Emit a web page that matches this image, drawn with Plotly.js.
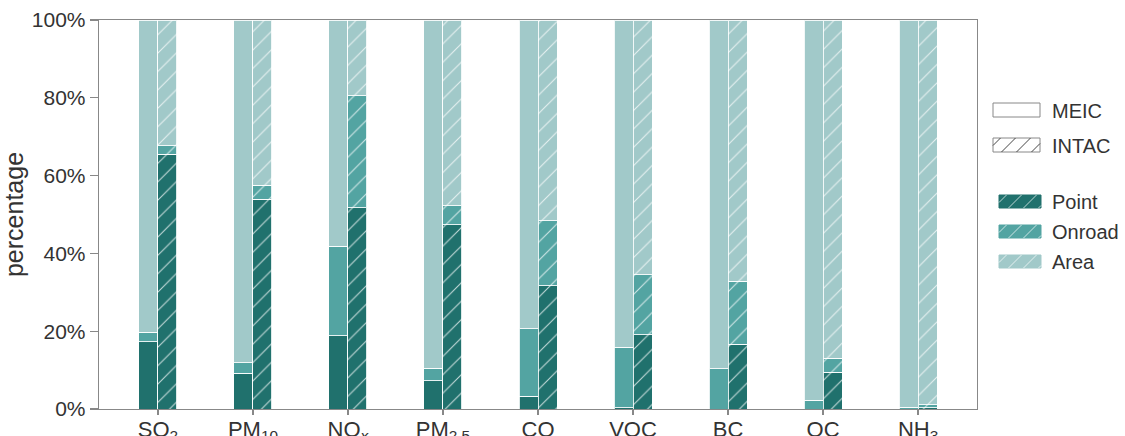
<!DOCTYPE html>
<html>
<head>
<meta charset="utf-8">
<script src="https://cdn.plot.ly/plotly-3.0.1.min.js"></script>
<style>html,body{margin:0;padding:0;background:#fff}#chart{width:1125px;height:436px}</style>
</head>
<body>
<div id="chart"></div>
<script>
const categories = ["SO<sub>2</sub>", "PM<sub>10</sub>", "NO<sub><i>x</i></sub>", "PM<sub>2.5</sub>", "CO", "VOC", "BC", "OC", "NH<sub>3</sub>"];
const meicPoint  = [17.3, 9.2, 18.8, 7.2, 3.3, 0.3, 0.0, 0.0, 0.0];
const meicOnroad = [2.4, 2.7, 23.0, 3.3, 17.3, 15.6, 10.3, 2.3, 0.4];
const meicArea   = [80.3, 88.1, 58.2, 89.5, 79.4, 84.1, 89.7, 97.7, 99.6];
const intacPoint  = [65.5, 53.9, 51.8, 47.4, 31.7, 19.1, 16.6, 9.4, 0.3];
const intacOnroad = [2.2, 3.6, 28.7, 4.9, 16.7, 15.4, 16.3, 3.6, 0.8];
const intacArea   = [32.3, 42.5, 19.5, 47.7, 51.6, 65.5, 67.1, 87.0, 98.9];
const yTicks = [0, 20, 40, 60, 80, 100];
const yTickLabels = ["0%", "20%", "40%", "60%", "80%", "100%"];
const datasetNames = ["MEIC", "INTAC"];
const sourceNames = ["Point", "Onroad", "Area"];

const colors = {Point: "#20716d", Onroad: "#53a4a2", Area: "#a1c9c9"};
const idx = categories.map((c, i) => i);
const xMeic = idx.map(i => i - 0.1);
const xIntac = idx.map(i => i + 0.1);
const font = "Liberation Sans, Arial, sans-serif";

function bar(x, y, name, hatch) {
  const m = {
    color: colors[name],
    line: {color: "rgba(255,255,255,0.85)", width: 1}
  };
  if (hatch) m.pattern = {shape: "/", fgcolor: "rgba(255,255,255,0.75)", bgcolor: colors[name], size: 13, solidity: 0.08};
  return {type: "bar", x: x, y: y, width: 0.2, name: name, showlegend: false, marker: m, hoverinfo: "y"};
}

const traces = [
  bar(xMeic, meicPoint, "Point", false),
  bar(xMeic, meicOnroad, "Onroad", false),
  bar(xMeic, meicArea, "Area", false),
  bar(xIntac, intacPoint, "Point", true),
  bar(xIntac, intacOnroad, "Onroad", true),
  bar(xIntac, intacArea, "Area", true)
];

// ---- manual legend (pixel -> paper conversion) ----
const L = 99, R = 977, T = 20, B = 409;
const px = v => (v - L) / (R - L);
const py = v => (B - v) / (B - T);
const shapes = [];
const annotations = [];

function hatchLines(x0, x1, top, bottom, step, color, width) {
  const h = bottom - top;
  for (let k = x0 - h + step / 2; k < x1; k += step) {
    let sx = k, sy = bottom, ex = k + h, ey = top;
    if (sx < x0) { sy = bottom - (x0 - sx); sx = x0; }
    if (ex > x1) { ey = top + (ex - x1); ex = x1; }
    if (ex - sx < 1) continue;
    shapes.push({type: "line", xref: "paper", yref: "paper", x0: px(sx), y0: py(sy), x1: px(ex), y1: py(ey),
                 line: {color: color, width: width}});
  }
}
function swatch(x0, x1, top, bottom, fill, edge, hatchColor) {
  shapes.push({type: "rect", xref: "paper", yref: "paper", x0: px(x0), x1: px(x1), y0: py(bottom), y1: py(top),
               fillcolor: fill, line: {color: edge, width: 1}});
  if (hatchColor) hatchLines(x0, x1, top, bottom, 15, hatchColor, 1);
}
function label(text, x, yc) {
  annotations.push({xref: "paper", yref: "paper", x: px(x), y: py(yc), xanchor: "left", yanchor: "middle",
                    text: text, showarrow: false, font: {size: 20, color: "#333", family: font}});
}
// dataset legend
swatch(993, 1040, 103, 117, "#ffffff", "#888", null);
label(datasetNames[0], 1050, 110.5);
swatch(993, 1040, 138, 152, "#ffffff", "#888", "#444");
label(datasetNames[1], 1050, 145.5);
// source legend
const srcY = [201.5, 231.5, 261.5];
sourceNames.forEach((n, i) => {
  swatch(999, 1041, srcY[i] - 6.5, srcY[i] + 6.5, colors[n], colors[n], "rgba(255,255,255,0.7)");
  label(n, 1050, srcY[i]);
});

const layout = {
  width: 1125, height: 436,
  margin: {l: 99, r: 148, t: 20, b: 27},
  paper_bgcolor: "#fff", plot_bgcolor: "#fff",
  barmode: "stack",
  font: {family: font, color: "#333", size: 21},
  showlegend: false,
  xaxis: {
    range: [-0.62, 8.62], tickvals: idx, ticktext: categories,
    ticks: "outside", ticklen: 5, tickcolor: "#888", tickwidth: 1.3,
    ticklabelstandoff: -5,
    showline: true, linecolor: "#888", linewidth: 1.3, mirror: true,
    showgrid: false, zeroline: false,
    tickfont: {size: 22, color: "#333"}
  },
  yaxis: {
    range: [0, 100], tickvals: yTicks, ticktext: yTickLabels,
    ticks: "outside", ticklen: 8, tickcolor: "#888", tickwidth: 1.3,
    showline: true, linecolor: "#888", linewidth: 1.3, mirror: true,
    showgrid: false, zeroline: false,
    tickfont: {size: 21, color: "#333"},
    title: {text: "percentage", font: {size: 25, color: "#333"}, standoff: 4}
  },
  shapes: shapes,
  annotations: annotations
};

Plotly.newPlot("chart", traces, layout, {displayModeBar: false, staticPlot: true});
</script>
</body>
</html>
